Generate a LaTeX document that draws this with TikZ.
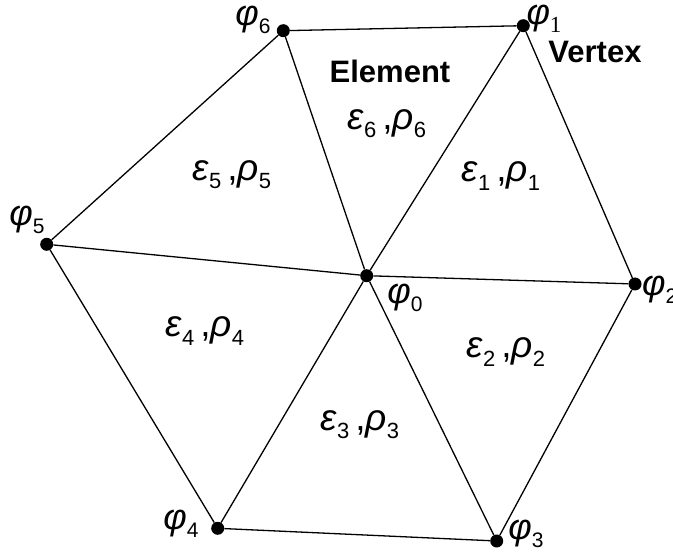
\documentclass[tikz,border=0pt]{standalone}
\usepackage{fontspec}
\setmainfont{Liberation Sans}
\newfontfamily\serifone{Liberation Serif}
\newcommand\gsb[2]{{\itshape #1}\raisebox{-0.22em}{\fontsize{21}{21}\selectfont\upshape #2}}
\newcommand\esb[2]{{\itshape #1}\raisebox{-0.22em}{\fontsize{22}{22}\selectfont\upshape #2}}
\tikzset{
  vtx/.style={circle,fill=black,inner sep=0pt,minimum size=13pt},
  edge/.style={line width=1.3pt},
  vlab/.style={inner sep=0pt,font=\fontsize{36}{40}\selectfont},
  elab/.style={inner sep=0pt,font=\fontsize{37}{40}\selectfont},
  title/.style={inner sep=0pt,font=\fontsize{31}{34}\selectfont\bfseries}
}
\begin{document}
\begin{tikzpicture}[x=1pt,y=-1pt]
\useasboundingbox (0,0) rectangle (673,556);
% vertices
\node[vtx] (v0) at (366.7,275.7) {};
\node[vtx] (v1) at (523.3,25.7) {};
\node[vtx] (v2) at (635,284) {};
\node[vtx] (v3) at (496.7,541) {};
\node[vtx] (v4) at (217.7,528.3) {};
\node[vtx] (v5) at (46.7,244.3) {};
\node[vtx] (v6) at (283.3,30.7) {};
% edges
\draw[edge] (v1) -- (v2) -- (v3) -- (v4) -- (v5) -- (v6) -- (v1);
\foreach \i in {1,...,6} \draw[edge] (v0) -- (v\i);
% vertex labels
\node[vlab] (l0) at (405,298) {\gsb{φ}{0}};
\node[vlab] (l1) at (544,19) {{\itshape φ}\raisebox{-0.22em}{\fontsize{23}{23}\selectfont\serifone 1}};
\node[vlab,anchor=west] (l2) at (642,290) {\gsb{φ}{2}};
\node[vlab] (l3) at (526,534) {\gsb{φ}{3}};
\node[vlab] (l4) at (181,524) {\gsb{φ}{4}};
\node[vlab] (l5) at (27,220) {\gsb{φ}{5}};
\node[vlab] (l6) at (253,20) {\gsb{φ}{6}};
% element labels
\node[elab] (e1) at (501,176) {\esb{ε}{1}\,,\esb{ρ}{1}};
\node[elab] (e2) at (506,352) {\esb{ε}{2}\,,\esb{ρ}{2}};
\node[elab] (e3) at (360,425) {\esb{ε}{3}\,,\esb{ρ}{3}};
\node[elab] (e4) at (205,331) {\esb{ε}{4}\,,\esb{ρ}{4}};
\node[elab] (e5) at (232,175) {\esb{ε}{5}\,,\esb{ρ}{5}};
\node[elab] (e6) at (387,124) {\esb{ε}{6}\,,\esb{ρ}{6}};
% titles
\node[title] (tel) at (390,71) {Element};
\node[title] (tvx) at (595,52) {Vertex};
\end{tikzpicture}
\end{document}
